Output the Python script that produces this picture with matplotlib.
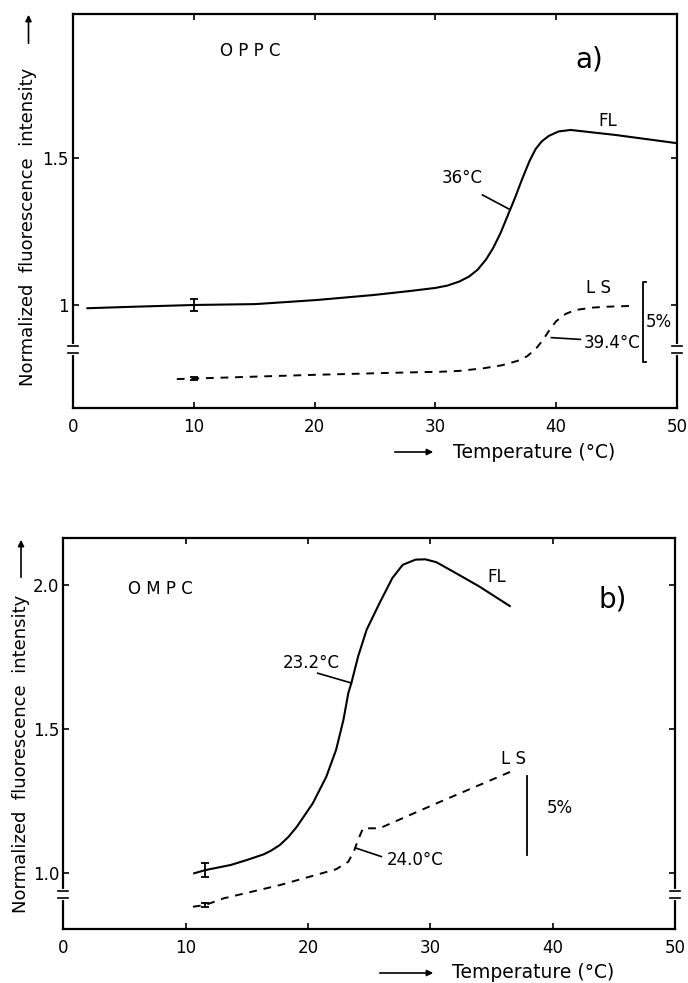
import numpy as np
import matplotlib.pyplot as plt
from matplotlib.transforms import blended_transform_factory

plt.rcParams['font.family'] = ['DejaVu Sans']

# ---- panel a (DPPC) ----
a_fl_x = [1.2, 5, 10, 15.1, 20.2, 24.9, 28.0, 30.0, 31.0, 32.0, 32.8, 33.5, 34.2, 34.8, 35.4, 36.0, 36.6,
          37.2, 37.8, 38.3, 38.8, 39.4, 40.2, 41.2, 44.9, 50.0]
a_fl_y = [0.989, 0.994, 1.0, 1.003, 1.017, 1.034, 1.048, 1.058, 1.066, 1.080, 1.097, 1.12, 1.155, 1.195, 1.245,
          1.305, 1.365, 1.43, 1.49, 1.53, 1.556, 1.575, 1.590, 1.595, 1.578, 1.55]
a_ls_x = [8.6, 10.0, 19.5, 27.0, 30.4, 32.0, 34.0, 35.5, 36.8, 37.6, 38.3, 38.9, 39.5, 40.0, 40.8, 41.6, 43.0, 44.1, 46.3]
a_ls_y = [0.748, 0.750, 0.762, 0.770, 0.773, 0.776, 0.785, 0.795, 0.810, 0.826, 0.850, 0.881, 0.918, 0.945, 0.970,
          0.983, 0.991, 0.994, 0.997]
a_err = [(10.0, 1.0, 0.02), (10.0, 0.750, 0.006)]

# ---- panel b (DMPC) ----
b_fl_x = [10.7, 11.6, 13.7, 15.0, 16.4, 17.0, 17.7, 18.4, 19.1, 20.4, 21.5, 22.3, 22.9, 23.3, 23.55, 24.1, 24.8,
          25.85, 26.9, 27.75, 28.8, 29.6, 30.5, 32.1, 34.0, 36.5]
b_fl_y = [0.999, 1.01, 1.028, 1.045, 1.065, 1.078, 1.097, 1.125, 1.161, 1.242, 1.334, 1.427, 1.531, 1.624, 1.659,
          1.751, 1.844, 1.936, 2.023, 2.069, 2.087, 2.088, 2.078, 2.04, 1.994, 1.926]
b_ls_x = [10.6, 11.6, 13.1, 17.7, 22.3, 23.3, 23.8, 24.1, 24.5, 25.85, 30.7, 36.6]
b_ls_y = [0.883, 0.889, 0.912, 0.958, 1.013, 1.039, 1.08, 1.115, 1.155, 1.155, 1.245, 1.352]
b_err = [(11.6, 1.01, 0.024), (11.6, 0.889, 0.008)]

fig = plt.figure(figsize=(6.88, 9.83), dpi=100)
ax_a = fig.add_axes([0.106, 0.585, 0.878, 0.401])
ax_b = fig.add_axes([0.092, 0.055, 0.889, 0.398])

DASH = (0, (4, 3.5))


def style_axis(ax, ylim, yticks, ylabels, ybreak):
    ax.set_xlim(0, 50)
    ax.set_ylim(*ylim)
    ax.set_xticks([0, 10, 20, 30, 40, 50])
    ax.set_xticklabels(["0", "10", "20", "30", "40", "50"])
    ax.set_yticks(yticks)
    ax.set_yticklabels(ylabels)
    ax.tick_params(direction='in', top=True, right=True, length=4, width=1.2,
                   labelsize=12)
    ax.tick_params(axis='x', pad=7)
    ax.tick_params(axis='y', pad=3)
    for s in ax.spines.values():
        s.set_linewidth(1.6)
    # axis break marks on both sides
    tr = blended_transform_factory(ax.transAxes, ax.transData)
    d = 0.012
    for xa in (0.0, 1.0):
        ax.plot([xa, xa], [ybreak - d, ybreak + d], color='white', lw=3,
                transform=tr, clip_on=False, zorder=5)
        for yy in (ybreak - d, ybreak + d):
            ax.plot([xa - 0.008, xa + 0.008], [yy, yy], color='black', lw=1.2,
                    transform=tr, clip_on=False, zorder=6)


def draw_err(ax, errs):
    for x, y, e in errs:
        ax.errorbar([x], [y], yerr=[e], fmt='none', ecolor='black',
                    elinewidth=1.3, capsize=3, capthick=1.3)


# panel a
style_axis(ax_a, (0.65, 1.99), [1.0, 1.5], ["1", "1.5"], 0.85)
ax_a.plot(a_fl_x, a_fl_y, color='black', lw=1.5)
ax_a.plot(a_ls_x, a_ls_y, color='black', lw=1.4, linestyle=DASH)
draw_err(ax_a, a_err)
ax_a.text(14.7, 1.862, "O P P C", fontsize=12, ha='center', va='center')
ax_a.text(42.7, 1.833, "a)", fontsize=20, ha='center', va='center')
ax_a.text(44.3, 1.625, "FL", fontsize=12, ha='center', va='center')
ax_a.text(32.2, 1.43, "36°C", fontsize=12, ha='center', va='center')
ax_a.plot([33.9, 36.1], [1.374, 1.326], color='black', lw=1.2)
ax_a.text(43.5, 1.057, "L S", fontsize=12, ha='center', va='center')
ax_a.plot([39.6, 42.0], [0.889, 0.883], color='black', lw=1.2)
ax_a.text(44.6, 0.872, "39.4°C", fontsize=12, ha='center', va='center')
ax_a.plot([47.4, 47.2, 47.2, 47.4], [1.079, 1.079, 0.807, 0.807], color='black', lw=1.3)
ax_a.text(48.5, 0.943, "5%", fontsize=12, ha='center', va='center')

# panel b
style_axis(ax_b, (0.806, 2.163), [1.0, 1.5, 2.0], ["1.0", "1.5", "2.0"], 0.925)
ax_b.plot(b_fl_x, b_fl_y, color='black', lw=1.5)
ax_b.plot(b_ls_x, b_ls_y, color='black', lw=1.4, linestyle=DASH)
draw_err(ax_b, b_err)
ax_b.text(7.9, 1.985, "O M P C", fontsize=12, ha='center', va='center')
ax_b.text(44.9, 1.95, "b)", fontsize=20, ha='center', va='center')
ax_b.text(35.4, 2.025, "FL", fontsize=12, ha='center', va='center')
ax_b.text(20.3, 1.728, "23.2°C", fontsize=12, ha='center', va='center')
ax_b.plot([20.8, 23.55], [1.693, 1.659], color='black', lw=1.2)
ax_b.text(36.8, 1.397, "L S", fontsize=12, ha='center', va='center')
ax_b.plot([23.95, 26.0], [1.086, 1.057], color='black', lw=1.2)
ax_b.text(28.8, 1.045, "24.0°C", fontsize=12, ha='center', va='center')
ax_b.plot([37.9, 37.9], [1.335, 1.064], color='black', lw=1.3)
ax_b.text(40.6, 1.224, "5%", fontsize=12, ha='center', va='center')

# axis labels with arrows (figure pixel positions)
W, H = 688.0, 983.0
arrow = dict(arrowstyle='-|>', color='black', lw=1.2, mutation_scale=9)
ylab = "Normalized  fluorescence  intensity"
fig.text(28.5 / W, 1 - 227 / H, ylab, rotation=90, fontsize=13,
         ha='center', va='center')
fig.add_artist(plt.Annotation("", xy=(28.5 / W, 1 - 12 / H), xytext=(28.5 / W, 1 - 46 / H),
                              xycoords='figure fraction', arrowprops=arrow))
fig.text(21 / W, 1 - 754 / H, ylab, rotation=90, fontsize=13,
         ha='center', va='center')
fig.add_artist(plt.Annotation("", xy=(21 / W, 1 - 537 / H), xytext=(21 / W, 1 - 580 / H),
                              xycoords='figure fraction', arrowprops=arrow))

xlab = "Temperature (°C)"
fig.text(453 / W, 1 - 452 / H, xlab, fontsize=13.5, ha='left', va='center')
fig.add_artist(plt.Annotation("", xy=(436 / W, 1 - 452 / H), xytext=(392 / W, 1 - 452 / H),
                              xycoords='figure fraction', arrowprops=arrow))
fig.text(452 / W, 1 - 973 / H, xlab, fontsize=13.5, ha='left', va='center')
fig.add_artist(plt.Annotation("", xy=(436 / W, 1 - 973 / H), xytext=(377 / W, 1 - 973 / H),
                              xycoords='figure fraction', arrowprops=arrow))

fig.savefig("out.png", dpi=100)
